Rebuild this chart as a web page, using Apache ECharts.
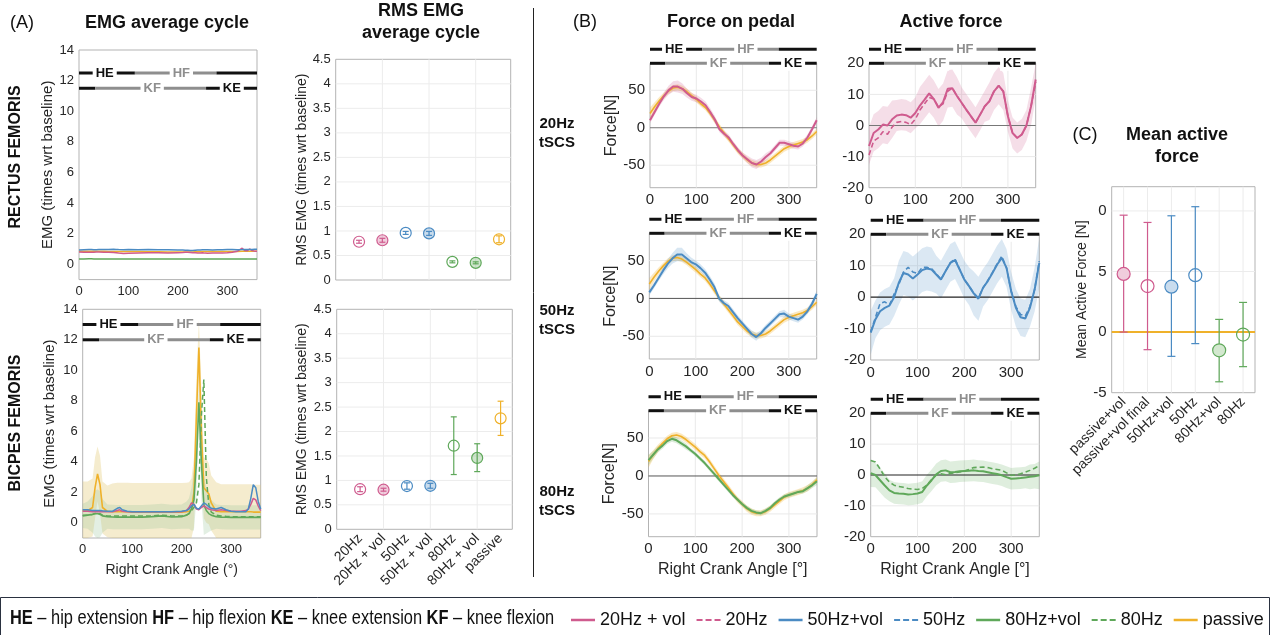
<!DOCTYPE html>
<html><head><meta charset="utf-8">
<script src="https://cdn.jsdelivr.net/npm/echarts@6/dist/echarts.min.js"></script>
<style>html,body{margin:0;padding:0;background:#fff}#c{width:1277px;height:635px}</style>
</head><body><div id="c"></div>
<script>
// ================= DATA =================
// EMG average cycle (x: right crank angle, deg)
const emgAngle = [0,10,20,25,30,35,40, 50,60,70,75,80,90,100, 120,140,160,180,200, 210,215,220,225,230,235,240,245,250,255,260, 270,280,290,300,310,320,330, 335,340,345,350,355,360];
// Rectus femoris
const rf20vol   = [0.80,0.79,0.78,0.78,0.79,0.80,0.80, 0.79,0.78,0.77,0.76,0.74,0.71,0.72, 0.74,0.76,0.75,0.74,0.76, 0.77,0.78,0.78,0.77,0.76,0.75,0.74,0.74,0.75,0.73,0.72, 0.73,0.74,0.74,0.75,0.78,0.85,1.05, 0.90,0.88,1.00,0.90,0.86,0.85];
const rf50vol   = [0.93,0.95,0.96,0.96,0.95,0.95,0.96, 0.97,0.97,0.98,0.97,0.96,0.95,0.96, 0.95,0.96,0.95,0.95,0.94, 0.93,0.92,0.91,0.90,0.90,0.92,0.93,0.94,0.95,0.95,0.95, 0.94,0.95,0.95,0.96,0.96,0.95,0.96, 0.97,0.97,0.96,0.97,0.98,0.98];
const rfPassive = [0.86,0.85,0.85,0.85,0.86,0.86,0.85, 0.85,0.84,0.84,0.84,0.84,0.84,0.83, 0.83,0.82,0.82,0.81,0.80, 0.80,0.80,0.80,0.80,0.81,0.82,0.82,0.82,0.83,0.83,0.83, 0.83,0.83,0.83,0.84,0.84,0.84,0.85, 0.85,0.85,0.85,0.86,0.86,0.86];
const rf80vol   = [0.35,0.35,0.36,0.36,0.35,0.35,0.35, 0.35,0.35,0.35,0.35,0.34,0.34,0.35, 0.35,0.35,0.35,0.35,0.35, 0.35,0.35,0.35,0.35,0.35,0.35,0.35,0.35,0.35,0.35,0.35, 0.35,0.35,0.35,0.35,0.35,0.35,0.35, 0.35,0.35,0.35,0.35,0.35,0.35];
// Biceps femoris
const bfPassive   = [0.80,0.80,1.00,2.30,3.20,2.50,1.00, 0.75,0.72,0.72,0.72,0.72,0.72,0.70, 0.70,0.70,0.70,0.70,0.70, 0.72,0.75,0.90,2.00,7.00,11.50,6.00,2.30,2.10,1.90,1.30, 0.75,0.72,0.72,0.72,0.72,0.72,0.72, 0.72,0.72,0.70,0.70,0.70,0.70];
const bfPassiveSd = [1.90,1.90,1.90,2.00,1.80,1.90,1.70, 1.70,1.85,1.90,1.90,1.90,1.90,1.90, 1.90,1.90,1.90,1.90,1.90, 1.90,1.90,2.00,2.30,2.50,1.80,2.80,2.00,2.10,2.00,1.80, 1.90,1.80,1.80,1.80,1.80,1.80,1.80, 1.80,1.80,1.80,1.80,1.80,1.80];
const bf80vol     = [0.45,0.50,0.55,0.60,0.60,0.55,0.45, 0.40,0.38,0.37,0.37,0.37,0.37,0.37, 0.37,0.40,0.45,0.38,0.40, 0.50,0.60,0.90,1.50,4.00,7.90,4.00,1.20,0.80,0.60,0.50, 0.40,0.37,0.36,0.35,0.35,0.35,0.35, 0.35,0.35,0.35,0.35,0.35,0.35];
const bf80volSd   = [0.80,0.90,1.20,1.50,1.60,1.50,1.10, 0.80,0.80,0.80,0.80,0.80,0.80,0.80, 0.80,0.80,0.80,0.80,0.80, 0.90,1.00,1.40,2.00,2.50,1.00,2.50,2.00,1.50,1.20,1.00, 0.80,0.80,0.80,0.80,0.80,0.80,0.80, 0.80,0.80,0.80,0.80,0.80,0.80];
const bf80        = [0.50,0.50,0.55,0.60,0.62,0.60,0.50, 0.45,0.45,0.45,0.45,0.45,0.45,0.45, 0.45,0.45,0.50,0.45,0.45, 0.50,0.60,0.80,1.00,1.30,2.50,7.00,9.40,3.00,1.20,0.70, 0.50,0.45,0.42,0.40,0.40,0.40,0.40, 0.40,0.40,0.40,0.40,0.40,0.40];
const bf50vol     = [0.85,0.85,0.80,0.80,0.80,0.80,0.78, 0.75,0.75,0.95,1.00,0.85,0.75,0.72, 0.72,0.72,0.72,0.72,0.75, 0.80,0.90,1.10,1.20,0.95,0.90,1.10,1.30,1.20,1.05,0.95, 0.90,1.00,0.85,0.75,0.72,0.72,0.72, 0.90,1.60,2.50,2.30,1.40,0.90];
const bf20vol     = [0.75,0.75,0.72,0.72,0.72,0.72,0.72, 0.72,0.72,0.80,0.85,0.75,0.72,0.72, 0.72,0.72,0.72,0.72,0.72, 0.80,1.00,1.30,1.20,0.90,0.85,1.00,1.10,1.00,0.90,0.85, 0.80,0.85,0.80,0.75,0.75,0.75,0.80, 0.90,1.20,1.60,1.50,1.10,0.80];

// RMS EMG average cycle
const rmsCats   = ['20Hz','20Hz + vol','50Hz','50Hz + vol','80Hz','80Hz + vol','passive'];
const rmsPos    = [1,2,3,4,5,6,7];
const rmsColor  = [0,0,1,1,2,2,3];
const rmsFilled = [0,1,0,1,0,1,0];
const rfRmsMean = [0.78,0.81,0.96,0.95,0.37,0.35,0.83];
const rfRmsLow  = [0.75,0.77,0.93,0.91,0.35,0.33,0.76];
const rfRmsHigh = [0.81,0.85,0.99,0.99,0.39,0.37,0.90];
const bfRmsMean = [0.82,0.81,0.885,0.89,1.71,1.46,2.27];
const bfRmsLow  = [0.77,0.78,0.82,0.84,1.12,1.18,1.92];
const bfRmsHigh = [0.87,0.84,0.95,0.94,2.30,1.75,2.62];

// Force on pedal / Active force (x: right crank angle, deg)
const forceAngle = [0,10,20,30,40,50,60,70,80,90,100,110,120,130,140,150,160,170,180,190,200,210,220,230,240,250,260,270,280,290,300,310,320,330,340,350,360];
const forcePassive   = [19,28,36,43,49,53,54,52,48,43,38,32,27,19,10,1,-7,-15,-23,-31,-37,-43,-47,-49,-49,-47,-43,-38,-33,-28,-25,-23,-21,-19,-16,-11,-5];
const forcePassiveSd = [8,6,5,4,4,4,4,4,4,4,4,4,4,4,4,4,4,4,4,4,4,4,4,4,4,4,4,4,4,4,4,4,4,4,4,4,4];
const force20vol     = [10,21,32,42,50,55,55,52,46,41,39,35,30,21,11,-2,-8,-13,-22,-30,-37,-42,-47,-49,-45,-39,-34,-27,-20,-20,-22,-24,-25,-21,-13,-2,10];
const force20volSd   = [4,4,4,5,6,7,8,7,6,5,5,5,5,5,5,4,4,4,4,4,4,5,6,6,5,5,4,4,4,4,4,4,4,4,4,4,4];
const force50vol     = [8,17,27,37,46,53,58,58,53,48,45,40,34,25,15,0,-6,-10,-18,-26,-33,-40,-47,-51,-46,-39,-33,-27,-21,-20,-24,-26,-28,-24,-17,-7,6];
const force50volSd   = [4,4,4,5,6,7,9,9,7,6,5,5,5,5,5,4,4,4,4,4,4,4,5,5,4,4,4,4,4,5,4,4,4,4,4,4,4];
const force80vol     = [21,28,35,40,46,49,47,43,39,34,29,23,17,10,3,-4,-11,-18,-25,-31,-37,-42,-46,-48,-49,-46,-42,-36,-31,-27,-25,-23,-21,-20,-16,-12,-7];
const force80volSd   = [7,5,4,4,4,4,4,4,4,3,3,3,3,3,3,3,3,3,3,3,3,3,3,3,3,3,3,3,3,3,3,3,3,3,4,4,5];
const active20vol    = [-6.6,-2.4,-1.3,0.3,0.0,2.0,3.2,3.5,3.3,2.5,4.0,6.4,8.3,10.3,8.5,5.7,7.5,11.8,12.0,9.5,7.3,5.1,3.0,0.9,3.5,6.2,7.8,11.0,12.8,11.0,3.0,-2.4,-4.0,-2.9,0.0,6.2,14.8];
const active20       = [-9.5,-5.0,-4.0,-2.0,-2.8,-0.5,1.0,1.3,1.0,0.3,2.0,5.0,7.0,9.0,8.5,6.0,7.0,11.0,12.0,9.5,7.3,5.1,3.0,0.9,3.5,6.2,7.8,11.0,12.8,11.0,3.0,-2.4,-4.0,-2.9,0.0,6.2,14.0];
const active20volSd  = [6,6,6,6,6,6,5,5,5,5,5,6,6,6,6,6,6,6,6,6,5,5,5,5,5,5,6,6,6,6,5,5,5,5,5,6,6];
const active50vol    = [-11.3,-7.1,-4.5,-3.4,-2.7,0.0,4.6,7.7,7.2,5.9,7.2,8.6,9.1,8.8,7.2,5.6,8.3,10.9,11.8,8.8,5.6,3.5,1.2,-0.5,3.0,5.1,7.7,10.4,12.5,9.3,1.9,-3.4,-6.4,-6.8,-3.4,2.4,10.9];
const active50       = [-11.0,-6.5,-2.0,-1.5,-2.5,1.0,4.0,8.0,9.5,8.0,7.5,9.5,9.5,9.0,7.5,5.6,8.3,10.9,12.2,8.8,5.6,3.5,1.3,-0.3,3.0,5.3,7.9,10.6,13.0,9.3,1.9,-3.0,-5.5,-6.0,-3.0,2.4,11.5];
const active50volSd  = [7,6,6,6,6,6,7,7,7,7,7,7,7,7,6,6,6,6,6,6,6,6,7,7,6,6,6,6,6,6,6,6,6,6,6,7,8];
const active80vol    = [0.6,0.0,-1.7,-3.4,-5.0,-5.8,-6.0,-6.1,-6.3,-6.2,-6.0,-5.5,-3.4,-1.7,0.2,1.3,1.5,0.9,1.0,1.2,1.3,1.4,1.5,1.3,1.2,0.9,0.6,0.3,-0.1,-0.7,-1.2,-1.1,-1.0,-0.8,-0.6,-0.4,-0.1];
const active80       = [4.7,4.2,2.0,-0.6,-2.3,-3.3,-3.7,-4.0,-4.4,-4.6,-4.7,-4.4,-3.3,-1.5,0.0,0.4,0.1,0.5,0.8,1.0,1.3,1.8,2.4,2.5,2.6,2.4,2.0,1.8,1.5,0.7,-0.1,0.0,0.4,0.9,1.5,2.2,3.1];
const active80volSd  = [4.5,4,4,4,3.5,3.5,3.5,3.5,3.5,3.5,3.5,3.5,3.5,3.5,3.5,3.5,3.5,3.5,3.5,3.5,3.5,3.5,3.5,3.5,3.5,3.5,3.5,3.5,3.5,3.5,3.5,3.5,3.5,3.5,4,4,4.5];

// Mean active force
const meanCats   = ['passive+vol','passive+vol final','50Hz+vol','50Hz','80Hz+vol','80Hz'];
const meanPos    = [1,2,3,4,5,6];
const meanColor  = [0,0,1,1,2,2];
const meanFilled = [1,0,1,0,1,0];
const meanVal    = [4.8,3.8,3.75,4.7,-1.5,-0.2];
const meanLow    = [0.0,-1.45,-2.0,-0.95,-4.1,-2.85];
const meanHigh   = [9.65,9.05,9.6,10.35,1.05,2.45];
const meanTicks      = [-5,0,5,10];
const meanTickLabels = ['-5','0','5','0'];

// Gait phases (deg)
const hipBounds = [0,113,278,360], hipTone = ['dark','light','dark'];
const hipLabels = ['HE','HF'], hipLabelAt = [52,207], hipLabelTone = ['dark','light'];
const kneeBounds = [0,33,257,360], kneeTone = ['dark','light','dark'];
const kneeLabels = ['KF','KE'], kneeLabelAt = [148,309], kneeLabelTone = ['light','dark'];

const legendNames = ['20Hz + vol','20Hz','50Hz+vol','50Hz','80Hz+vol','80Hz','passive'];
const legendDashed = [false,true,false,true,false,true,false];

// ================= STYLE =================
const mainFont = "'Liberation Sans', Arial, Helvetica, sans-serif";
const tickColor = '#262626';
const COL = ['#cf5b8e', '#4b8bc3', '#5fa85a', '#efb12a'];
const FILL_T = ['rgba(207,91,142,0.30)', 'rgba(75,139,195,0.30)', 'rgba(95,168,90,0.30)', 'rgba(239,177,42,0.30)'];
const FILL_O = ['#f0cddc', '#c9dcee', '#d3e8cf', '#f8e3b0'];
const TONE = {dark:'#111111', light:'#8e8e8e'};
const DASH_ICON = 'path://M0,0H6V2H0Z M9,0H15V2H9Z M18,0H24V2H18Z';

const plots = [
  {left:79,    top:50,    width:178,   height:229.6}, // 0 EMG RF
  {left:82.7,  top:309.3, width:178,   height:228.7}, // 1 EMG BF
  {left:335.7, top:59.3,  width:175,   height:220.7}, // 2 RMS RF
  {left:336.7, top:309.3, width:175.6, height:220},   // 3 RMS BF
  {left:650,   top:63.3,  width:166.7, height:124.4}, // 4 F20
  {left:649.3, top:233.3, width:167.4, height:125.7}, // 5 F50
  {left:648.5, top:410.7, width:168.5, height:126},   // 6 F80
  {left:869,   top:63.3,  width:166.7, height:124.4}, // 7 A20
  {left:870.7, top:234.3, width:168.6, height:125.7}, // 8 A50
  {left:870.7, top:413.3, width:168.6, height:123.4}, // 9 A80
  {left:1111.7,top:186.7, width:143.3, height:206}    // 10 C
];
const grids = plots.map(p => Object.assign({show:true, borderColor:'#b3b3b3', borderWidth:1, backgroundColor:'rgba(0,0,0,0)'}, p));
for (let k = 4; k <= 9; k++) {
  const p = plots[k];
  grids.push({show:false, left:p.left, width:p.width, top:p.top - 14, height:14}); // 11..16
}

const lab = (fs, extra) => Object.assign({color:tickColor, fontSize:fs, fontFamily:mainFont, margin:5}, extra || {});
const angleTicks = [0,100,200,300];
const xAxes = [], yAxes = [];
function addAxes(x, y){ xAxes.push(x); yAxes.push(y); }
const base = {type:'value', axisLine:{show:false}, axisTick:{show:false}, splitLine:{show:false}};
function ax(gi, o){ return Object.assign({}, base, {gridIndex:gi}, o); }
const yName = (name, gap, fs) => ({name, nameLocation:'middle', nameGap:gap, nameRotate:90, nameTextStyle:{color:'#262626', fontSize:fs, fontFamily:mainFont}});
const xName = (name, gap, fs) => ({name, nameLocation:'middle', nameGap:gap, nameTextStyle:{color:'#262626', fontSize:fs, fontFamily:mainFont}});

// 0,1 EMG
addAxes(ax(0,{min:0,max:360,axisLabel:lab(13,{customValues:angleTicks})}),
        ax(0,Object.assign({min:-1,max:14,axisLabel:lab(13,{customValues:[0,2,4,6,8,10,12,14]})}, yName('EMG (times wrt baseline)',22,15))));
addAxes(ax(1,Object.assign({min:0,max:360,axisLabel:lab(13,{customValues:angleTicks})}, xName('Right Crank Angle (°)',25,14))),
        ax(1,Object.assign({min:-1,max:14,axisLabel:lab(13,{customValues:[0,2,4,6,8,10,12,14]})}, yName('EMG (times wrt baseline)',25,15))));
// 2,3 RMS
addAxes(ax(2,{min:0,max:7.5,axisLabel:{show:false}}),
        ax(2,Object.assign({min:0,max:4.5,interval:0.5,axisLabel:lab(13)}, yName('RMS EMG (times wrt baseline)',27,14))));
addAxes(ax(3,{min:0,max:7.5,axisLabel:lab(14,{customValues:rmsPos, rotate:45, margin:7, formatter:v=>rmsCats[v-1]})}),
        ax(3,Object.assign({min:0,max:4.5,interval:0.5,axisLabel:lab(13)}, yName('RMS EMG (times wrt baseline)',28,14))));
// 4,5,6 force
for (let k = 4; k <= 6; k++) {
  const xo = {min:0,max:360,axisLabel:lab(15,{customValues:angleTicks})};
  if (k === 6) Object.assign(xo, xName('Right Crank Angle [°]',25,16));
  addAxes(ax(k,xo), ax(k,Object.assign({min:-80,max:86,axisLabel:lab(15,{customValues:[-50,0,50]})}, yName('Force[N]',30,16))));
}
// 7,8,9 active
for (let k = 7; k <= 9; k++) {
  const xo = {min:0,max:360,axisLabel:lab(15,{customValues:angleTicks})};
  if (k === 9) Object.assign(xo, xName('Right Crank Angle [°]',25,16));
  addAxes(ax(k,xo), ax(k,{min:-20,max:20,interval:10,axisLabel:lab(15)}));
}
// 10 mean active
addAxes(ax(10,{min:0.5,max:6.5,axisLabel:lab(14,{customValues:meanPos, rotate:45, margin:7, formatter:v=>meanCats[v-1]})}),
        ax(10,Object.assign({min:-5,max:12,axisLabel:lab(15,{customValues:meanTicks, formatter:v=>meanTickLabels[meanTicks.indexOf(v)]})}, yName('Mean Active Force [N]',22,14))));
// 11..16 phase overlays
for (let k = 11; k <= 16; k++) {
  xAxes.push({type:'value', gridIndex:k, min:0, max:360, show:false});
  yAxes.push({type:'value', gridIndex:k, min:0, max:1, show:false});
}

// ================= SERIES HELPERS =================
function pts(xs, ys){ return xs.map((x,i)=>[x, ys[i]]); }
function line(name, a, xs, ys, color, dashed, width){
  return {type:'line', name, xAxisIndex:a, yAxisIndex:a, data:pts(xs,ys), symbol:'none', showSymbol:false, silent:true, z:4,
    lineStyle:{color, width, type: dashed ? [5,3] : 'solid'}, itemStyle:{color}, emphasis:{disabled:true}, animation:false};
}
function clampPts(points, cs){
  return points.map(p => [Math.min(cs.x + cs.width, Math.max(cs.x, p[0])), Math.min(cs.y + cs.height, Math.max(cs.y, p[1]))]);
}
function band(a, xs, mean, sd, color, alpha){
  return {type:'custom', xAxisIndex:a, yAxisIndex:a, silent:true, z:2, data:[[xs[0], mean[0]]],
    renderItem(params, api){
      const up = xs.map((x,i)=>api.coord([x, mean[i] + sd[i]]));
      const lo = xs.map((x,i)=>api.coord([x, mean[i] - sd[i]])).reverse();
      const cs = params.coordSys;
      return {type:'polygon', shape:{points:clampPts(up.concat(lo), cs)}, style:{fill:color, opacity:alpha}};
    }};
}
function gridLines(a, xv, yv, xr, yr, color, width, z){
  return {type:'custom', xAxisIndex:a, yAxisIndex:a, silent:true, z:z || 1, data:[[xr[0], yr[0]]],
    renderItem(params, api){
      const kids = [];
      xv.forEach(x => { const p=api.coord([x,yr[0]]), q=api.coord([x,yr[1]]);
        kids.push({type:'line', shape:{x1:p[0],y1:p[1],x2:q[0],y2:q[1]}, style:{stroke:color, lineWidth:width}}); });
      yv.forEach(y => { const p=api.coord([xr[0],y]), q=api.coord([xr[1],y]);
        kids.push({type:'line', shape:{x1:p[0],y1:p[1],x2:q[0],y2:q[1]}, style:{stroke:color, lineWidth:width}}); });
      return {type:'group', children:kids};
    }};
}
function phase(a, yHip, yKnee){
  const rows = [[hipBounds,hipTone,hipLabels,hipLabelAt,hipLabelTone,yHip],[kneeBounds,kneeTone,kneeLabels,kneeLabelAt,kneeLabelTone,yKnee]];
  return {type:'custom', xAxisIndex:a, yAxisIndex:a, silent:true, z:6, data:[[0, yKnee]],
    renderItem(params, api){
      const kids = [];
      rows.forEach(([b,t,labs,at,lt,y]) => {
        for (let i = 0; i < b.length - 1; i++) {
          const p = api.coord([b[i], y]), q = api.coord([b[i+1], y]);
          kids.push({type:'line', shape:{x1:p[0],y1:p[1],x2:q[0],y2:q[1]}, style:{stroke:TONE[t[i]], lineWidth:3}});
        }
        labs.forEach((s,i) => {
          const p = api.coord([at[i], y]);
          kids.push({type:'text', x:p[0], y:p[1], z2:10, style:{text:s, fill:TONE[lt[i]], font:'bold 13px ' + mainFont,
            align:'center', verticalAlign:'middle', backgroundColor:'#ffffff', padding:[1,3]}});
        });
      });
      return {type:'group', children:kids};
    }};
}
function errBars(name, a, pos, mean, lo, hi, cIdx, filled, fills, r, cap){
  return {type:'custom', name, xAxisIndex:a, yAxisIndex:a, silent:true, z:5,
    data: pos.map((p,i)=>[p, mean[i], lo[i], hi[i], cIdx[i], filled[i]]),
    renderItem(params, api){
      const x=api.value(0), ci=api.value(4);
      const col = COL[ci], f = api.value(5) ? fills[ci] : 'rgba(255,255,255,0)';
      const pm = api.coord([x, api.value(1)]), pl = api.coord([x, api.value(2)]), ph = api.coord([x, api.value(3)]);
      const st = {stroke:col, lineWidth:1.2};
      return {type:'group', children:[
        {type:'line', shape:{x1:pl[0],y1:pl[1],x2:ph[0],y2:ph[1]}, style:st},
        {type:'line', shape:{x1:pl[0]-cap,y1:pl[1],x2:pl[0]+cap,y2:pl[1]}, style:st},
        {type:'line', shape:{x1:ph[0]-cap,y1:ph[1],x2:ph[0]+cap,y2:ph[1]}, style:st},
        {type:'circle', shape:{cx:pm[0],cy:pm[1],r}, style:{fill:f, stroke:col, lineWidth:1.2}}
      ]};
    }};
}

// ================= SERIES =================
const series = [];
const rows = [
  {f:4, a:7, stim:force20vol, stimSd:force20volSd, c:0, solid:'20Hz + vol', dashed:'20Hz', act:active20vol, actD:active20, actSd:active20volSd, zf:'#777777', za:'#777777'},
  {f:5, a:8, stim:force50vol, stimSd:force50volSd, c:1, solid:'50Hz+vol', dashed:'50Hz', act:active50vol, actD:active50, actSd:active50volSd, zf:'#555555', za:'#222222'},
  {f:6, a:9, stim:force80vol, stimSd:force80volSd, c:2, solid:'80Hz+vol', dashed:'80Hz', act:active80vol, actD:active80, actSd:active80volSd, zf:'#555555', za:'#222222'}
];
rows.forEach((r, k) => {
  // force on pedal
  series.push(gridLines(r.f, [100,200,300], [-50,50], [0,360], [-80,86], '#e9e9e9', 1));
  series.push(band(r.f, forceAngle, forcePassive, forcePassiveSd, COL[3], 0.28));
  series.push(band(r.f, forceAngle, r.stim, r.stimSd, COL[r.c], 0.22));
  series.push(gridLines(r.f, [], [0], [0,360], [-80,86], r.zf, 1, 3));
  series.push(line('passive', r.f, forceAngle, forcePassive, COL[3], false, 1.6));
  series.push(line(r.solid, r.f, forceAngle, r.stim, COL[r.c], false, 2));
  series.push(phase(11 + k, 1, 0));
  // active force
  series.push(gridLines(r.a, [100,200,300], [-10,10], [0,360], [-20,20], '#e9e9e9', 1));
  series.push(band(r.a, forceAngle, r.act, r.actSd, COL[r.c], 0.2));
  series.push(gridLines(r.a, [], [0], [0,360], [-20,20], r.za, 1.2, 3));
  series.push(line(r.dashed, r.a, forceAngle, r.actD, COL[r.c], true, 1.6));
  series.push(line(r.solid, r.a, forceAngle, r.act, COL[r.c], false, 2));
  series.push(phase(14 + k, 1, 0));
});

// EMG rectus femoris
series.push(line('80Hz+vol', 0, emgAngle, rf80vol, COL[2], false, 1.5));
series.push(line('passive', 0, emgAngle, rfPassive, COL[3], false, 1.5));
series.push(line('20Hz + vol', 0, emgAngle, rf20vol, COL[0], false, 1.5));
series.push(line('50Hz+vol', 0, emgAngle, rf50vol, COL[1], false, 1.5));
series.push(phase(0, 12.5, 11.5));
// EMG biceps femoris
series.push(band(1, emgAngle, bfPassive, bfPassiveSd, '#e3c873', 0.35));
series.push(band(1, emgAngle, bf80vol, bf80volSd, '#9cc79a', 0.28));
series.push(line('passive', 1, emgAngle, bfPassive, COL[3], false, 1.6));
series.push(line('80Hz', 1, emgAngle, bf80, COL[2], true, 1.5));
series.push(line('80Hz+vol', 1, emgAngle, bf80vol, COL[2], false, 1.6));
series.push(line('20Hz + vol', 1, emgAngle, bf20vol, COL[0], false, 1.5));
series.push(line('50Hz+vol', 1, emgAngle, bf50vol, COL[1], false, 1.5));
series.push(phase(1, 13, 12));

// RMS
const rmsGridY = [0.5,1,1.5,2,2.5,3,3.5,4];
series.push(gridLines(2, [2,4,6], rmsGridY, [0,7.5], [0,4.5], '#ececec', 1));
series.push(errBars('rms rf', 2, rmsPos, rfRmsMean, rfRmsLow, rfRmsHigh, rmsColor, rmsFilled, FILL_T, 5.5, 3));
series.push(gridLines(3, [2,4,6], rmsGridY, [0,7.5], [0,4.5], '#ececec', 1));
series.push(errBars('rms bf', 3, rmsPos, bfRmsMean, bfRmsLow, bfRmsHigh, rmsColor, rmsFilled, FILL_T, 5.5, 3));

// Mean active force
series.push(gridLines(10, [1,2,3,4,5,6], [5,10], [0.5,6.5], [-5,12], '#ececec', 1));
series.push(gridLines(10, [], [0], [0.5,6.5], [-5,12], COL[3], 2, 3));
series.push(errBars('mean active', 10, meanPos, meanVal, meanLow, meanHigh, meanColor, meanFilled, FILL_O, 6.5, 4));

// ================= GRAPHICS =================
const T = (x, y, text, fs, bold, extra) => Object.assign({type:'text', x, y, silent:true,
  style:{text, fill:'#111', font:(bold ? 'bold ' : '') + fs + 'px ' + mainFont, align:'center', verticalAlign:'middle', lineHeight:fs + 4}}, extra || {});
const graphic = [
  T(22, 23, '(A)', 18, false),
  T(167, 23, 'EMG average cycle', 18, true),
  T(421, 22, 'RMS EMG\naverage cycle', 18, true),
  T(585, 22, '(B)', 18, false),
  T(731, 22, 'Force on pedal', 18, true),
  T(951, 22, 'Active force', 18, true),
  T(1085, 135, '(C)', 18, false),
  T(1177, 146, 'Mean active\nforce', 18, true),
  T(16, 157, 'RECTUS FEMORIS', 16, true, {rotation:Math.PI/2}),
  T(16, 423, 'BICPES FEMORIS', 16, true, {rotation:Math.PI/2}),
  T(557, 133, '20Hz\ntSCS', 15, true),
  T(557, 320, '50Hz\ntSCS', 15, true),
  T(557, 501, '80Hz\ntSCS', 15, true),
  {type:'line', silent:true, shape:{x1:533.5, y1:8, x2:533.5, y2:577}, style:{stroke:'#222', lineWidth:1}},
  {type:'rect', silent:true, shape:{x:0.5, y:597.5, width:1269, height:40}, style:{fill:'none', stroke:'#2a3140', lineWidth:1}},
  {type:'text', x:10, y:618, scaleX:0.82, silent:true, style:{
    text:'{b|HE} – hip extension {b|HF} – hip flexion {b|KE} – knee extension {b|KF} – knee flexion',
    fill:'#111', font:'20px ' + mainFont, verticalAlign:'middle',
    rich:{b:{fontWeight:'bold', fontFamily:mainFont, fontSize:20, fill:'#111'}}}}
];

const chart = echarts.init(document.getElementById('c'), null, {renderer:'canvas'});
chart.setOption({
  animation:false,
  backgroundColor:'#ffffff',
  textStyle:{fontFamily:mainFont},
  grid:grids, xAxis:xAxes, yAxis:yAxes, series,
  legend:{data:legendNames.map((n,i)=>({name:n, icon: legendDashed[i] ? DASH_ICON : 'rect'})),
    left:566, top:606, itemWidth:24, itemHeight:2.5, itemGap:11, selectedMode:false,
    textStyle:{fontFamily:mainFont, fontSize:18, color:'#111'}},
  graphic
});
</script></body></html>
